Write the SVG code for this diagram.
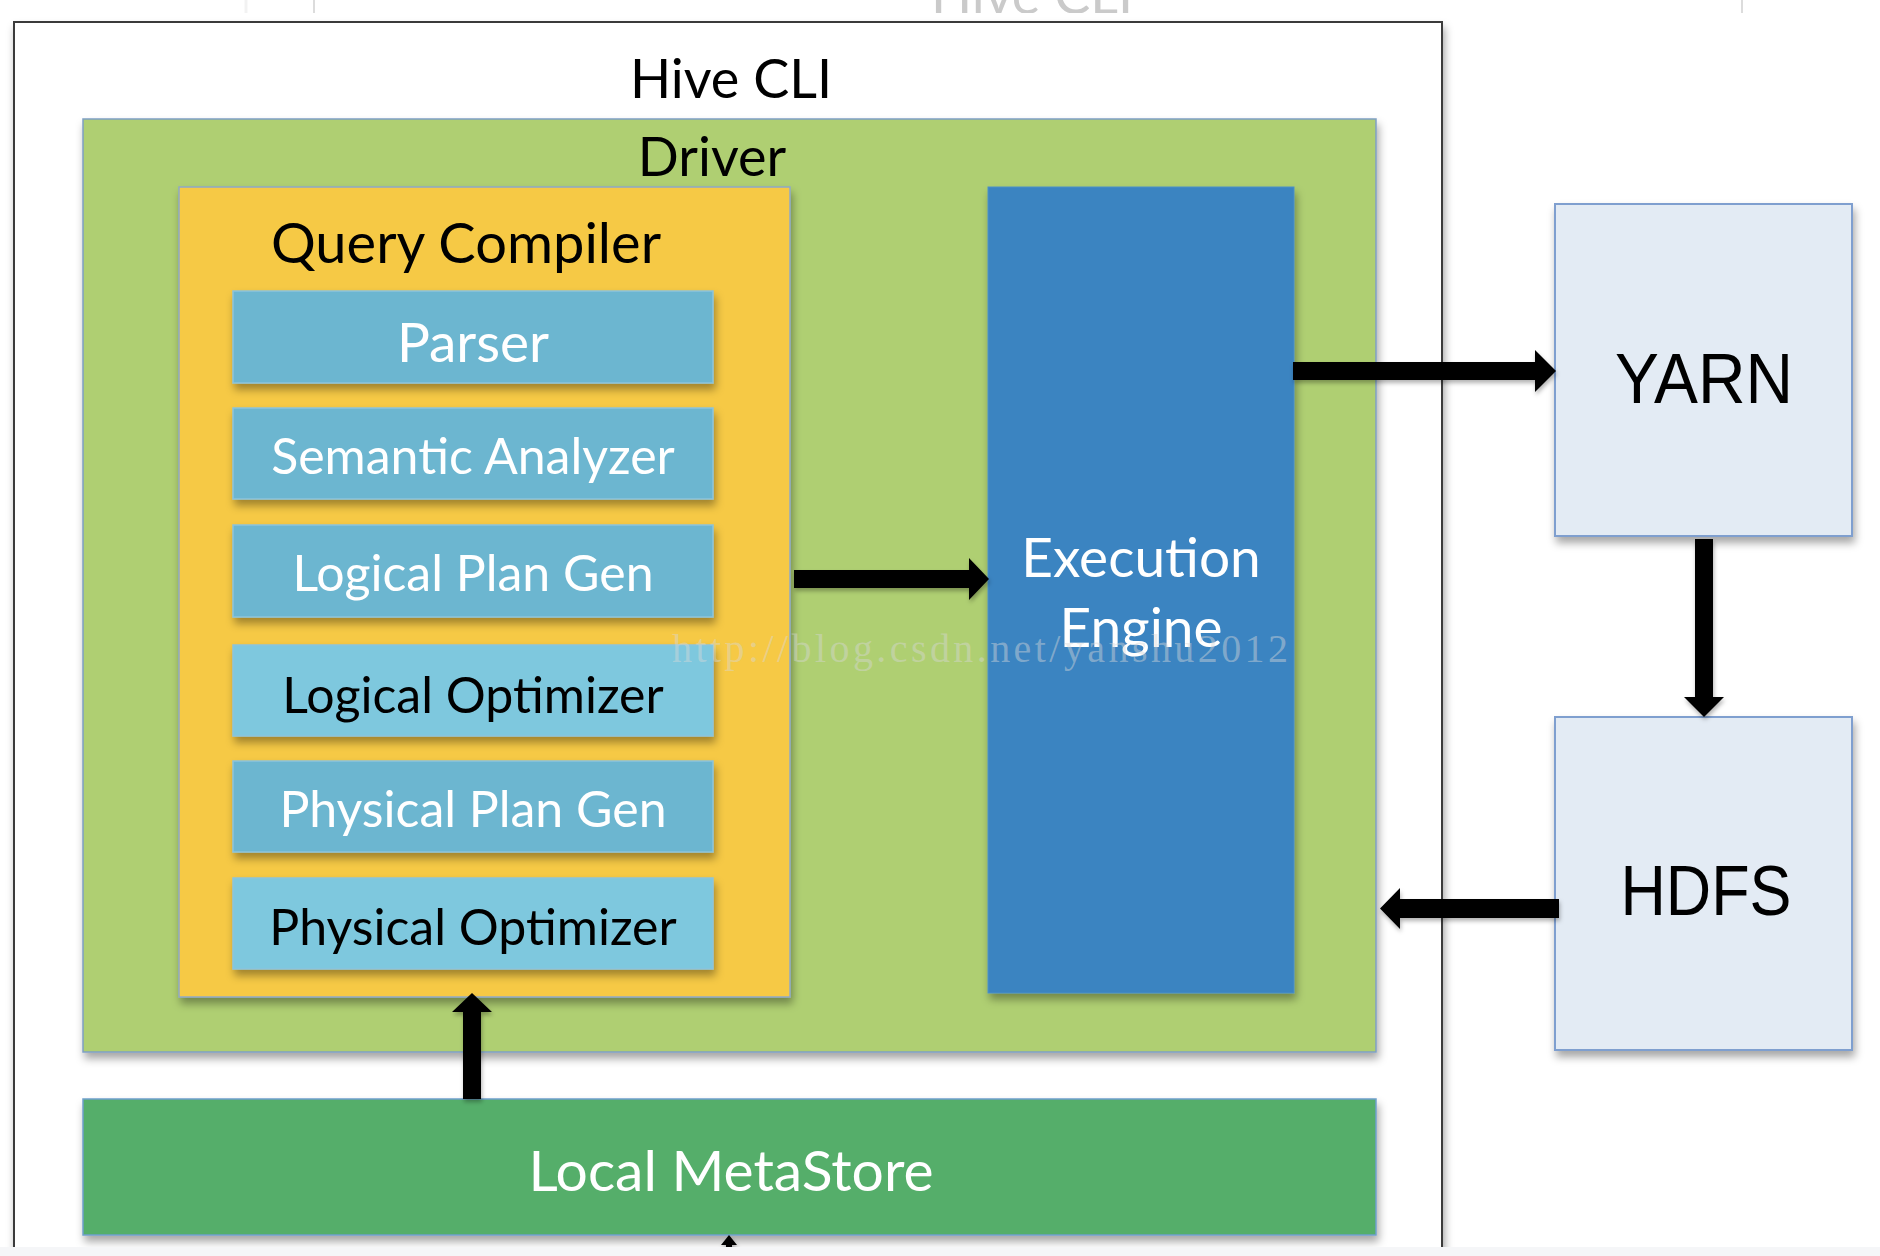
<svg xmlns="http://www.w3.org/2000/svg" width="1880" height="1256" viewBox="0 0 1880 1256">
  <defs>
    <filter id="sh" x="-10%" y="-10%" width="120%" height="130%">
      <feDropShadow dx="2" dy="6" stdDeviation="4" flood-color="#000" flood-opacity="0.35"/>
    </filter>
    <filter id="shs" x="-20%" y="-20%" width="140%" height="140%">
      <feDropShadow dx="1" dy="3" stdDeviation="2" flood-color="#000" flood-opacity="0.3"/>
    </filter>
    <clipPath id="topclip"><rect x="0" y="0" width="1880" height="13"/></clipPath>
    <style>
      .t { font-family: Lato, "Open Sans", "Liberation Sans", sans-serif; text-anchor: middle; }
      .big { font-size: 54px; fill: #000; }
      .sub { font-size: 50px; }
      .w { fill: #fff; }
      .k { fill: #000; }
      .subbox { stroke: #8cc3dc; stroke-width: 1.5; }
      .dark { fill: #6cb6d0; }
      .light { fill: #7ec8de; }
      .ext { fill: #e3ebf4; stroke: #7f9fcf; stroke-width: 2; }
      .ext-t { font-family: "Liberation Sans", Arial, sans-serif; text-anchor: middle; fill: #000; }
      .arrow { fill: #000; }
    </style>
  </defs>

  <rect x="0" y="0" width="1880" height="1256" fill="#fff"/>

  <!-- clipped artifact strip at top -->
  <g id="top-strip" clip-path="url(#topclip)">
    <line x1="246" y1="0" x2="246" y2="13" stroke="#f2f2f2" stroke-width="3"/>
    <line x1="314" y1="0" x2="314" y2="13" stroke="#dcdcdc" stroke-width="2"/>
    <line x1="1742" y1="0" x2="1742" y2="13" stroke="#dcdcdc" stroke-width="2"/>
    <text x="1032" y="14" class="t" font-size="54" fill="#cacaca">Hive CLI</text>
  </g>

  <!-- Hive CLI outer box -->
  <g id="hive-cli">
    <rect x="14" y="22" width="1428" height="1250" fill="#fff" stroke="#3a3a3a" stroke-width="2" filter="url(#sh)"/>
    <text x="731" y="98" class="t big">Hive CLI</text>
  </g>

  <!-- Driver -->
  <g id="driver">
    <rect x="83" y="119" width="1293" height="933" fill="#afcf72" stroke="#7f9fc4" stroke-width="1.5" filter="url(#sh)"/>
    <text x="712" y="176" class="t big">Driver</text>
  </g>

  <!-- Query Compiler -->
  <g id="query-compiler">
    <rect x="179" y="187" width="611" height="810" fill="#f6c945" stroke="#8fa8c8" stroke-width="1.5" filter="url(#sh)"/>
    <text x="466" y="263" class="t" font-size="56" fill="#000">Query Compiler</text>
  </g>

  <g id="parser">
    <rect x="233" y="291" width="480" height="92" class="subbox dark" filter="url(#sh)"/>
    <text x="473" y="362" class="t w" font-size="55">Parser</text>
  </g>
  <g id="semantic-analyzer">
    <rect x="233" y="408" width="480" height="91" class="subbox dark" filter="url(#sh)"/>
    <text x="473" y="474" class="t sub w">Semantic Analyzer</text>
  </g>
  <g id="logical-plan-gen">
    <rect x="233" y="525" width="480" height="92" class="subbox dark" filter="url(#sh)"/>
    <text x="473" y="591" class="t sub w">Logical Plan Gen</text>
  </g>
  <g id="logical-optimizer">
    <rect x="233" y="645" width="480" height="91" class="subbox light" filter="url(#sh)"/>
    <text x="473" y="713" class="t sub k">Logical Optimizer</text>
  </g>
  <g id="physical-plan-gen">
    <rect x="233" y="761" width="480" height="91" class="subbox dark" filter="url(#sh)"/>
    <text x="473" y="827" class="t sub w">Physical Plan Gen</text>
  </g>
  <g id="physical-optimizer">
    <rect x="233" y="878" width="480" height="91" class="subbox light" filter="url(#sh)"/>
    <text x="473" y="945" class="t sub k">Physical Optimizer</text>
  </g>

  <!-- Execution Engine -->
  <g id="execution-engine">
    <rect x="988" y="187" width="306" height="806" fill="#3a84c1" stroke="#4a8fc8" stroke-width="1" filter="url(#sh)"/>
    <text x="1141" y="577" class="t w" font-size="55">Execution</text>
    <text x="1141" y="647" class="t w" font-size="55">Engine</text>
  </g>

  <!-- YARN / HDFS -->
  <g id="yarn">
    <rect x="1555" y="204" width="297" height="332" class="ext" filter="url(#sh)"/>
    <text x="1704" y="403" class="ext-t" font-size="70" textLength="178" lengthAdjust="spacingAndGlyphs">YARN</text>
  </g>
  <g id="hdfs">
    <rect x="1555" y="717" width="297" height="333" class="ext" filter="url(#sh)"/>
    <text x="1706" y="915" class="ext-t" font-size="70" textLength="171" lengthAdjust="spacingAndGlyphs">HDFS</text>
  </g>

  <!-- Local MetaStore -->
  <g id="local-metastore">
    <rect x="83" y="1099" width="1293" height="136" fill="#55ae6a" stroke="#6f9fcc" stroke-width="1.5" filter="url(#sh)"/>
    <text x="731" y="1191" class="t w" font-size="57">Local MetaStore</text>
  </g>

  <!-- Connectors -->
  <g id="connectors" class="arrow" filter="url(#shs)">
    <path d="M794 570 H969 V558 L989 579 L969 600 V588 H794 Z"/>
    <path d="M1293 362 H1535 V350 L1556 371 L1535 392 V380 H1293 Z"/>
    <path d="M1695 539 V697 H1684 L1704 717 L1724 697 H1713 V539 Z"/>
    <path d="M1559 899 H1400 V888 L1380 908.5 L1400 929 V918 H1559 Z"/>
    <path d="M463 1099 V1012 H452 L472 993 L492 1012 H481 V1099 Z"/>
    <path d="M726 1250 V1245 H721 L729 1235 L737 1245 H732 V1250 Z"/>
  </g>

  <!-- watermark -->
  <text x="980" y="662" font-family="'Liberation Serif', 'Times New Roman', serif" font-size="40" text-anchor="middle" textLength="616" fill="#d8d8d8" fill-opacity="0.45">http://blog.csdn.net/yanshu2012</text>

  <!-- bottom band -->
  <rect x="0" y="1247" width="1880" height="9" fill="#f5f6f8"/>
</svg>
